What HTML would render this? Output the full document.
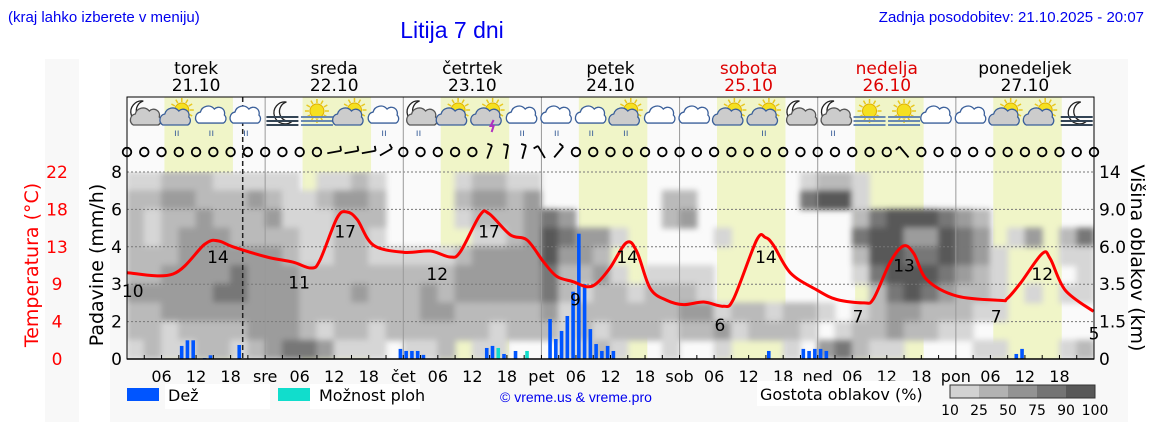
<!DOCTYPE html>
<html><head><meta charset="utf-8">
<style>
html,body{margin:0;padding:0;background:#fff;width:1152px;height:443px;overflow:hidden}
svg{display:block}
text{font-family:"DejaVu Sans","Liberation Sans",sans-serif}
.hdr{font-family:"Liberation Sans",sans-serif}
</style></head><body>
<svg id="chart" width="1152" height="443" viewBox="0 0 1152 443" xmlns="http://www.w3.org/2000/svg">
<defs><filter id="blur" filterUnits="userSpaceOnUse" x="100" y="150" width="1020" height="230"><feGaussianBlur stdDeviation="3"/></filter>
<clipPath id="plotclip"><rect x="127" y="172" width="967" height="187"/></clipPath></defs>
<rect x="45" y="59" width="34" height="363" fill="#f8f8f8"/>
<rect x="110" y="59" width="1018" height="363" fill="#f8f8f8"/>
<rect x="127" y="97" width="967" height="262" fill="#fafafa"/>
<text class="hdr" x="8" y="22" font-size="15" fill="#0000ee">(kraj lahko izberete v meniju)</text>
<text class="hdr" x="452" y="38" font-size="23" fill="#0000ee" text-anchor="middle">Litija 7 dni</text>
<text class="hdr" x="1144" y="22" font-size="15" fill="#0000ee" text-anchor="end">Zadnja posodobitev: 21.10.2025 - 20:07</text>
<g id="bands"></g>
<g clip-path="url(#plotclip)"><g id="clouds" filter="url(#blur)"></g></g>
<g id="grid"></g>
<g id="bars"></g>
<g id="temp"></g>
<g id="icons"></g>
<g id="wind"></g>
<g id="axes"></g>
<text transform="translate(38,265) rotate(-90)" font-size="19" fill="#ff0000" text-anchor="middle">Temperatura (°C)</text>
<text transform="translate(103,265) rotate(-90)" font-size="19" fill="#000" text-anchor="middle">Padavine (mm/h)</text>
<text transform="translate(1131,258) rotate(90)" font-size="19" fill="#000" text-anchor="middle">Višina oblakov (km)</text>
<g>
<rect x="127" y="388" width="32" height="13" fill="#0055ff"/>
<rect x="165" y="384" width="105" height="25" fill="#fff"/>
<text x="168" y="401" font-size="16">Dež</text>
<rect x="278" y="388" width="32" height="13" fill="#11ddcc"/>
<rect x="310" y="384" width="110" height="25" fill="#fff"/>
<text x="319" y="401" font-size="16">Možnost ploh</text>
<text class="hdr" x="500" y="402" font-size="14" fill="#0000ee">© vreme.us &amp; vreme.pro</text>
<rect x="757" y="381" width="163" height="25" fill="#fff"/>
<text x="760" y="400" font-size="16">Gostota oblakov (%)</text>
<g id="cscale"></g>
</g>
</svg>
<script>
const NS='http://www.w3.org/2000/svg';
const X0=127, X1=1094, HOURS=168, YB=359, YT=172;
const dayNames=['torek','sreda','četrtek','petek','sobota','nedelja','ponedeljek'];
const dayDates=['21.10','22.10','23.10','24.10','25.10','26.10','27.10'];
const weekend=[false,false,false,false,true,true,false];
const dayAbbr=['','sre','čet','pet','sob','ned','pon'];
const precipTicks=['8','6','4','3','2','0'];
const precipBreaks=[0,2,3,4,6,8];
const tempTicks=['22','18','13','9','4','0'];
const heightTicks=['14','9.0','6.0','3.5','1.5','0'];
const tempHours=[0,8,13.5,15.8,18.4,24.3,28.8,32,33.5,36.5,38.2,40,42.8,48.1,52.7,56.1,57.9,61.3,62.9,66.6,69.5,72.4,74.7,77.5,79.9,81.6,83.9,86.8,88.6,90.9,93.8,96.7,100.2,103.6,105.4,109.4,110.9,112.3,115.3,119.9,123.3,128,129.7,132.6,134.9,136.7,139,144.2,151.7,152.9,155.2,159,160.4,163,167.9];
const tempValues=[10.15,10,13.5,13.9,13.2,12,11.4,10.7,11.6,16.6,17.3,16.4,13.4,12.55,12.7,12,12.6,16.9,17.1,14.6,14,11.4,9.7,9.1,8.5,8.9,10.7,13.7,12.6,8.3,6.9,6.4,6.7,6.2,7.1,14,14.3,13.4,10.1,8.1,7,6.6,7.1,11.4,13.3,12.4,9.3,7.4,6.9,7.1,8.9,12.4,11.8,8.1,5.6];
const tempLabelHours=[1,15.8,29.9,37.9,53.9,62.9,77.9,86.9,103,111,127,135,151,159,168];
const tempLabelValues=[10,14,11,17,12,17,9,14,6,14,7,13,7,12,5];
const rainHours=[9,10,11,13,14,19,47,48,49,50,51,62,63,65,67,73,74,75,76,77,78,79,80,81,82,83,84,111,117,118,119,120,121,154,155];
const rainValues=[0.7,1.0,1.0,0.05,0.2,0.75,0.54,0.43,0.43,0.43,0.22,0.59,0.7,0.27,0.43,2.07,1.07,1.5,2.15,2.8,4.7,3.0,1.6,0.8,0.43,0.7,0.43,0.43,0.54,0.43,0.54,0.54,0.43,0.27,0.54];
const showerHours=[64,69];
const showerValues=[0.59,0.43];
const cloudRow0=[1,1,2,2,2,1,1,1, 1,1,0,1,1,2,1,0, 0,0,0,1,2,2,1,1, 0,0,0,0,0,0,0,0, 0,0,0,0,0,0,0,1, 2,2,1,0,0,0,0,0, 0,0,0,0,0,0,0,0];
const cloudRow1=[2,2,3,3,2,2,2,3, 2,1,1,2,3,3,2,0, 0,0,0,2,3,3,2,3, 0,0,0,0,0,0,0,2, 2,0,0,0,0,0,0,4, 5,5,1,0,0,0,0,0, 0,0,0,0,0,0,0,0];
const cloudRow2=[2,1,2,2,3,2,2,2, 3,1,1,1,2,2,2,0, 0,0,0,1,2,2,2,3, 4,3,0,0,0,0,0,2, 3,0,0,0,0,0,0,0, 0,0,2,4,5,5,5,4, 3,2,0,0,0,0,0,0];
const cloudRow3=[2,1,2,3,3,3,2,2, 2,2,1,1,2,2,1,0, 0,0,0,0,1,1,2,3, 5,4,3,3,1,0,0,0, 0,0,1,0,0,0,0,0, 0,0,4,5,5,3,3,5, 4,3,0,1,3,0,2,4];
const cloudRow4=[2,2,2,3,3,3,3,3, 3,2,1,1,2,2,1,1, 1,1,1,2,3,3,3,3, 5,3,3,2,0,0,0,0, 0,0,0,0,0,0,0,0, 0,0,2,5,5,4,4,5, 4,3,1,0,0,0,1,1];
const cloudRow5=[2,2,3,3,3,3,4,3, 3,3,2,2,2,2,2,2, 2,2,2,3,3,3,3,3, 4,2,2,3,1,0,1,1, 1,1,0,0,0,0,0,0, 0,0,1,4,5,5,5,4, 3,2,1,0,0,0,0,1];
const cloudRow6=[3,3,3,3,3,4,4,3, 3,3,2,2,2,3,2,2, 2,3,2,3,3,3,3,3, 4,2,1,2,2,1,2,2, 2,1,0,0,0,0,0,0, 0,0,0,2,4,5,4,3, 2,2,1,0,1,0,1,1];
const cloudRow7=[2,2,3,3,3,3,3,3, 3,3,2,2,2,2,2,2, 2,3,3,2,2,2,2,2, 3,1,2,2,2,2,2,2, 3,3,1,2,2,1,2,2, 1,0,1,2,3,3,2,2, 2,1,1,0,0,0,0,0];
const cloudRow8=[2,2,1,2,2,2,2,3, 3,3,2,1,2,2,1,2, 2,2,2,2,2,1,2,2, 2,1,2,1,2,2,2,1, 2,2,3,1,2,2,2,1, 0,1,2,2,3,2,2,1, 1,0,0,0,0,0,0,0];
const cloudRow9=[1,2,1,1,2,2,1,2, 3,4,4,3,1,1,1,0, 1,1,2,0,1,1,0,0, 0,1,1,2,1,0,0,1, 0,0,1,0,0,0,1,0, 3,4,2,1,1,0,0,0, 0,1,1,0,0,0,1,2];
const cloudRows=[cloudRow0,cloudRow1,cloudRow2,cloudRow3,cloudRow4,cloudRow5,cloudRow6,cloudRow7,cloudRow8,cloudRow9];
const cloudScaleLabels=['10','25','50','75','90','100'];
const iconTypes=['M','SR','CR','CR','N','F','S','CR','MR','S','ST','CR','CR','CR','SR','C','C','S','SR','M','MR','F','F','C','C','S','S','N'];
const windBarbSlots=[12,13,14,15,21,22,23,24,25,45];
const windBarbAngles=[80,80,80,60,20,10,15,-30,40,-40];

const hx=h=>X0+(X1-X0)*h/HOURS;
const yTemp=t=>YB-(YB-YT)*t/22;
function yPrec(v){const step=(YB-YT)/5;for(let i=0;i<5;i++){if(v<=precipBreaks[i+1]){return YB-step*(i+(v-precipBreaks[i])/(precipBreaks[i+1]-precipBreaks[i]));}}return YT;}
function mk(tag,attrs,parent){const e=document.createElementNS(NS,tag);for(const k in attrs)e.setAttribute(k,attrs[k]);parent.appendChild(e);return e;}
const svg=document.getElementById('chart');

const bands=document.getElementById('bands');
for(let d=0;d<7;d++){
  const b=mk('rect',{x:hx(d*24+6.5),y:97,width:hx(d*24+18.4)-hx(d*24+6.5),height:262,fill:'#f0f5c8'},bands);
  
  
  const c=hx(d*24+12);
  const t1=mk('text',{x:c,y:74,'font-size':17,'text-anchor':'middle',fill:weekend[d]?'#dd0000':'#000'},svg);
  t1.textContent=dayNames[d];
  
  
  const t2=mk('text',{x:c,y:91,'font-size':17,'text-anchor':'middle',fill:weekend[d]?'#dd0000':'#000'},svg);
  t2.textContent=dayDates[d];
  
  
}
const cg=document.getElementById('clouds');
const cloudColors=['none','#d6d6d6','#bababa','#9c9c9c','#777777','#585858'];
const colW=(X1-X0)/56, rowH=(YB-YT)/10;
cloudRows.forEach((row,r)=>row.forEach((v,c)=>{
  if(!v)return;
  const e=mk('rect',{x:X0+c*colW-0.5,y:YT+r*rowH-0.5,width:colW+1,height:rowH+1,fill:cloudColors[v]},cg);
  
  
}));
const grid=document.getElementById('grid');
for(let i=0;i<5;i++){
  const y=YT+i*(YB-YT)/5;
  const l=mk('line',{x1:X0,x2:X1,y1:y,y2:y,stroke:'#777','stroke-width':1,'stroke-dasharray':'2,2'},grid);
  
  
}
for(let d=1;d<7;d++){
  const l=mk('line',{x1:hx(d*24),x2:hx(d*24),y1:97,y2:YB,stroke:'#999','stroke-width':1},grid);
  
  
}
const nowL=mk('line',{x1:hx(20.1),x2:hx(20.1),y1:97,y2:YB,stroke:'#222','stroke-width':1.5,'stroke-dasharray':'5,3'},grid);


const bars=document.getElementById('bars');
rainHours.forEach((h,i)=>{
  const y=yPrec(rainValues[i]);
  const r=mk('rect',{x:hx(h+0.5)-1.8,y:y,width:3.6,height:YB-y,fill:'#0055ff'},bars);
  
  
});
showerHours.forEach((h,i)=>{
  const y=yPrec(showerValues[i]);
  const r=mk('rect',{x:hx(h+0.5)-1.8,y:y,width:3.6,height:YB-y,fill:'#11ddcc'},bars);
  
  
});
const pts=tempHours.map((h,i)=>[hx(h),yTemp(tempValues[i])]);
let d='M'+pts[0][0]+','+pts[0][1];
for(let i=0;i<pts.length-1;i++){
  const p0=pts[Math.max(0,i-1)],p1=pts[i],p2=pts[i+1],p3=pts[Math.min(pts.length-1,i+2)];
  const c1=[p1[0]+(p2[0]-p0[0])/6,p1[1]+(p2[1]-p0[1])/6],c2=[p2[0]-(p3[0]-p1[0])/6,p2[1]-(p3[1]-p1[1])/6];
  d+=' C'+c1[0]+','+c1[1]+' '+c2[0]+','+c2[1]+' '+p2[0]+','+p2[1];
}
const tg=document.getElementById('temp');
const tl=mk('path',{d:d,fill:'none',stroke:'#ff0000','stroke-width':3,'stroke-linejoin':'round'},tg);


tempLabelHours.forEach((h,i)=>{
  const t=mk('text',{x:hx(h),y:yTemp(tempLabelValues[i])+23,'font-size':17,'text-anchor':'middle',fill:'#000'},tg);
  t.textContent=tempLabelValues[i];
  
  
});
const ig=document.getElementById('icons');
function cloud(g,cx,cy,s,fill,stroke){
  mk('path',{d:`M${cx-13*s},${cy+7*s} a6 6 0 0 1 2,-11 a8 8 0 0 1 14,-3 a6 6 0 0 1 10,6 a5 5 0 0 1 -1,8 z`,fill:fill,stroke:stroke,'stroke-width':1.3},g);
}
function sun(g,cx,cy){
  for(let a=0;a<360;a+=30){const r=a*Math.PI/180;mk('line',{x1:cx+8*Math.cos(r),y1:cy+8*Math.sin(r),x2:cx+12*Math.cos(r),y2:cy+12*Math.sin(r),stroke:'#e8c820','stroke-width':1.5},g);}
  mk('circle',{cx:cx,cy:cy,r:7,fill:'#f5e020',stroke:'#e0b000','stroke-width':1},g);
}
function moon(g,cx,cy){
  mk('path',{d:`M${cx+4},${cy-11} a11 11 0 1 0 6,19 a9 9 0 0 1 -6,-19 z`,fill:'#fff',stroke:'#222','stroke-width':1.3},g);
}
iconTypes.forEach((t,i)=>{
  const cx=hx(i*6+3), cy=114;
  const g=mk('g',{},ig);
  
  
  if(t[0]==='M'){moon(g,cx-5,cy-2);cloud(g,cx+2,cy+4,1,'#ccc','#555');}
  else if(t[0]==='N'){moon(g,cx,cy-1);for(let k=0;k<3;k++)mk('line',{x1:cx-16,x2:cx+16,y1:cy+3+k*4,y2:cy+3+k*4,stroke:'#345','stroke-width':2},g);}
  else if(t[0]==='F'){sun(g,cx,cy-3);for(let k=0;k<3;k++)mk('line',{x1:cx-16,x2:cx+16,y1:cy+3+k*4,y2:cy+3+k*4,stroke:'#6a8ab0','stroke-width':2},g);}
  else if(t[0]==='S'){sun(g,cx+3,cy-4);cloud(g,cx-3,cy+4,1,'#ccc','#3a5f9a');}
  else {cloud(g,cx,cy+1,1.15,'#fff','#3a5f9a');}
  if(t[1]==='R'){mk('text',{x:cx-2,y:cy+22,'font-size':10,fill:'#3a5f9a','text-anchor':'middle'},g).textContent='ıı';}
  if(t[1]==='T'){mk('path',{d:`M${cx+4},${cy+6} l-3,6 h3 l-2,6`,stroke:'#b030c0','stroke-width':2,fill:'none'},g);}
});
const wg=document.getElementById('wind');
for(let k=0;k<=56;k++){
  const x=hx(k*3), y=152;
  const bi=windBarbSlots.indexOf(k);
  if(bi<0){
    const c=mk('circle',{cx:x,cy:y,r:4.3,fill:'none',stroke:'#000','stroke-width':1.8},wg);
    
    
  } else {
    const a=windBarbAngles[bi]*Math.PI/180, L=14;
    const x2=x+L*Math.sin(a), y2=y-L*Math.cos(a);
    const l=mk('path',{d:`M${x-L/2*Math.sin(a)},${y+L/2*Math.cos(a)} L${x2-L/2*Math.sin(a)},${y2+L/2*Math.cos(a)} m0,0 l${-5*Math.cos(a)},${-5*Math.sin(a)}`,stroke:'#000','stroke-width':1.8,fill:'none'},wg);
    
    
  }
}
const ax=document.getElementById('axes');
mk('rect',{x:X0,y:97,width:X1-X0,height:YB-97,fill:'none',stroke:'#000','stroke-width':1},ax);
mk('line',{x1:X0,x2:X1,y1:YB,y2:YB,stroke:'#000','stroke-width':1.5},ax);
for(let i=0;i<6;i++){
  const y=YT+i*(YB-YT)/5;
  const a=mk('text',{x:122,y:y+6,'font-size':17,'text-anchor':'end'},ax);
  a.textContent=precipTicks[i];
  
  
  const b=mk('text',{x:57,y:y+6,'font-size':17,'text-anchor':'middle',fill:'#ff0000'},ax);
  b.textContent=tempTicks[i];
  
  
  const c=mk('text',{x:1099,y:y+6,'font-size':17,'text-anchor':'start'},ax);
  c.textContent=heightTicks[i];
  
  
}
for(let k=1;k<56;k++){
  const x=hx(k*3);
  mk('line',{x1:x,x2:x,y1:YB,y2:YB-4,stroke:'#000','stroke-width':1},ax);
}
for(let dd=0;dd<7;dd++){
  ['06','12','18'].forEach((s,j)=>{
    const t=mk('text',{x:hx(dd*24+6*(j+1)),y:382,'font-size':16,'text-anchor':'middle'},ax);
    t.textContent=s;
    
    
  });
  if(dd>0){
    const t=mk('text',{x:hx(dd*24),y:382,'font-size':16,'text-anchor':'middle'},ax);
    t.textContent=dayAbbr[dd];
    
    
  }
}
const cs=document.getElementById('cscale');
const scaleCols=['#d2d2d2','#b2b2b2','#939393','#747474','#585858'];
for(let i=0;i<5;i++){
  const r=mk('rect',{x:950+i*29,y:385,width:29,height:13,fill:scaleCols[i]},cs);
  
  
}
mk('rect',{x:950,y:385,width:145,height:13,fill:'none',stroke:'#333','stroke-width':1},cs);
cloudScaleLabels.forEach((s,i)=>{
  const t=mk('text',{x:950+i*29,y:415,'font-size':14,'text-anchor':'middle'},cs);
  t.textContent=s;
  
  
});
</script>
</body></html>
